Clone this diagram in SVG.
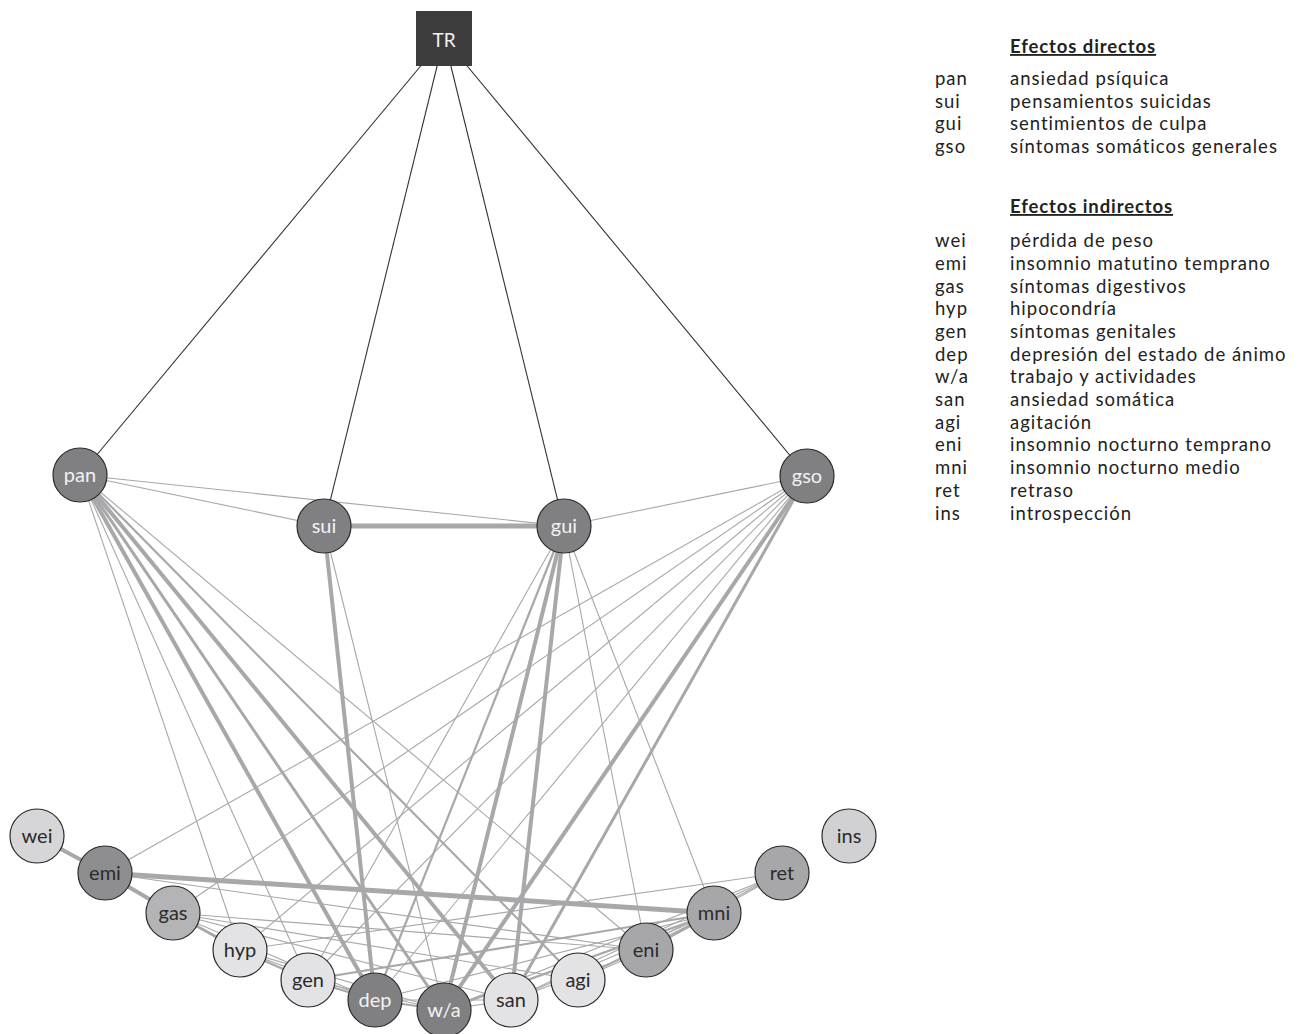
<svg xmlns="http://www.w3.org/2000/svg" width="1299" height="1034" viewBox="0 0 1299 1034">
<style>
.e{stroke:#a8a8ab;fill:none}
.w1{stroke-width:1.1}
.w2{stroke-width:2.2}
.w3{stroke-width:3}
.w4{stroke-width:4}
.w5{stroke-width:5}
.tr{stroke:#333;stroke-width:1.1;fill:none}
.n{stroke:#2b2b2b;stroke-width:1.2}
.lab{font-family:Lato,"Open Sans",sans-serif;font-size:20px;text-anchor:middle;dominant-baseline:central}
.lw{fill:#f2f2f2}
.ld{fill:#2b2b2b}
.lg{font-family:Lato,"Open Sans",sans-serif;font-size:18.5px;fill:#222;letter-spacing:1px}
.hd{font-weight:bold;text-decoration:underline;letter-spacing:0.9px}
.c1{fill:#808083}
.c2{fill:#8e8e90}
.c3{fill:#b4b4b6}
.c4{fill:#a7a7a9}
.c5{fill:#d6d6d8}
.c6{fill:#e3e3e5}
.c7{fill:#d1d1d3}
</style>
<rect width="1299" height="1034" fill="#ffffff"/>
<g id="connectors">
<line class="tr" x1="444" y1="38" x2="80" y2="475"/>
<line class="tr" x1="444" y1="38" x2="324" y2="526"/>
<line class="tr" x1="444" y1="38" x2="564" y2="526"/>
<line class="tr" x1="444" y1="38" x2="807" y2="476"/>
<line class="e w1" x1="80" y1="475" x2="324" y2="526"/>
<line class="e w1" x1="80" y1="475" x2="564" y2="526"/>
<line class="e w1" x1="80" y1="475" x2="240" y2="950"/>
<line class="e w1" x1="80" y1="475" x2="308" y2="980"/>
<line class="e w4" x1="80" y1="475" x2="375" y2="1000"/>
<line class="e w3" x1="80" y1="475" x2="444" y2="1010"/>
<line class="e w4" x1="80" y1="475" x2="511" y2="1000"/>
<line class="e w2" x1="80" y1="475" x2="578" y2="980"/>
<line class="e w1" x1="80" y1="475" x2="646" y2="950"/>
<line class="e w5" x1="324" y1="526" x2="564" y2="526"/>
<line class="e w4" x1="324" y1="526" x2="375" y2="1000"/>
<line class="e w1" x1="324" y1="526" x2="444" y2="1010"/>
<line class="e w1" x1="564" y1="526" x2="807" y2="476"/>
<line class="e w1" x1="564" y1="526" x2="308" y2="980"/>
<line class="e w2" x1="564" y1="526" x2="375" y2="1000"/>
<line class="e w4" x1="564" y1="526" x2="444" y2="1010"/>
<line class="e w4" x1="564" y1="526" x2="511" y2="1000"/>
<line class="e w1" x1="564" y1="526" x2="646" y2="950"/>
<line class="e w1" x1="564" y1="526" x2="714" y2="913"/>
<line class="e w1" x1="807" y1="476" x2="105" y2="873"/>
<line class="e w1" x1="807" y1="476" x2="173" y2="913"/>
<line class="e w1" x1="807" y1="476" x2="240" y2="950"/>
<line class="e w1" x1="807" y1="476" x2="308" y2="980"/>
<line class="e w1" x1="807" y1="476" x2="375" y2="1000"/>
<line class="e w4" x1="807" y1="476" x2="444" y2="1010"/>
<line class="e w3" x1="807" y1="476" x2="511" y2="1000"/>
<line class="e w4" x1="37" y1="836" x2="105" y2="873"/>
<line class="e w4" x1="105" y1="873" x2="173" y2="913"/>
<line class="e w5" x1="105" y1="873" x2="714" y2="913"/>
<line class="e w1" x1="105" y1="873" x2="646" y2="950"/>
<line class="e w3" x1="173" y1="913" x2="240" y2="950"/>
<line class="e w1" x1="173" y1="913" x2="646" y2="950"/>
<line class="e w1" x1="173" y1="913" x2="578" y2="980"/>
<line class="e w1" x1="173" y1="913" x2="511" y2="1000"/>
<line class="e w1" x1="173" y1="913" x2="375" y2="1000"/>
<line class="e w2" x1="240" y1="950" x2="308" y2="980"/>
<line class="e w1" x1="240" y1="950" x2="375" y2="1000"/>
<line class="e w1" x1="240" y1="950" x2="444" y2="1010"/>
<line class="e w1" x1="240" y1="950" x2="782" y2="873"/>
<line class="e w2" x1="308" y1="980" x2="375" y2="1000"/>
<line class="e w1" x1="308" y1="980" x2="444" y2="1010"/>
<line class="e w2" x1="308" y1="980" x2="714" y2="913"/>
<line class="e w2" x1="375" y1="1000" x2="444" y2="1010"/>
<line class="e w1" x1="375" y1="1000" x2="511" y2="1000"/>
<line class="e w1" x1="375" y1="1000" x2="714" y2="913"/>
<line class="e w2" x1="444" y1="1010" x2="714" y2="913"/>
<line class="e w1" x1="444" y1="1010" x2="782" y2="873"/>
<line class="e w1" x1="444" y1="1010" x2="511" y2="1000"/>
<line class="e w1" x1="511" y1="1000" x2="782" y2="873"/>
<line class="e w1" x1="511" y1="1000" x2="714" y2="913"/>
<line class="e w1" x1="511" y1="1000" x2="646" y2="950"/>
<line class="e w1" x1="578" y1="980" x2="646" y2="950"/>
<line class="e w1" x1="578" y1="980" x2="714" y2="913"/>
<line class="e w1" x1="578" y1="980" x2="782" y2="873"/>
<line class="e w2" x1="646" y1="950" x2="714" y2="913"/>
<line class="e w1" x1="646" y1="950" x2="782" y2="873"/>
</g>
<g id="TR"><rect x="416" y="11" width="56" height="55" fill="#3c3c3c"/><text class="lab lw" x="444" y="39" style="font-size:19px">TR</text></g>
<g id="pan"><circle class="n c1" cx="80" cy="475" r="27"/><text class="lab lw" x="80" y="474">pan</text></g>
<g id="sui"><circle class="n c1" cx="324" cy="526" r="27"/><text class="lab lw" x="324" y="525">sui</text></g>
<g id="gui"><circle class="n c1" cx="564" cy="526" r="27"/><text class="lab lw" x="564" y="525">gui</text></g>
<g id="gso"><circle class="n c1" cx="807" cy="476" r="27"/><text class="lab lw" x="807" y="475">gso</text></g>
<g id="wei"><circle class="n c5" cx="37" cy="836" r="27"/><text class="lab ld" x="37" y="835">wei</text></g>
<g id="emi"><circle class="n c2" cx="105" cy="873" r="27"/><text class="lab ld" x="105" y="872">emi</text></g>
<g id="gas"><circle class="n c3" cx="173" cy="913" r="27"/><text class="lab ld" x="173" y="912">gas</text></g>
<g id="hyp"><circle class="n c6" cx="240" cy="950" r="27"/><text class="lab ld" x="240" y="949">hyp</text></g>
<g id="gen"><circle class="n c6" cx="308" cy="980" r="27"/><text class="lab ld" x="308" y="979">gen</text></g>
<g id="dep"><circle class="n c1" cx="375" cy="1000" r="27"/><text class="lab lw" x="375" y="999">dep</text></g>
<g id="wa"><circle class="n c1" cx="444" cy="1010" r="27"/><text class="lab lw" x="444" y="1009">w/a</text></g>
<g id="san"><circle class="n c6" cx="511" cy="1000" r="27"/><text class="lab ld" x="511" y="999">san</text></g>
<g id="agi"><circle class="n c6" cx="578" cy="980" r="27"/><text class="lab ld" x="578" y="979">agi</text></g>
<g id="eni"><circle class="n c4" cx="646" cy="950" r="27"/><text class="lab ld" x="646" y="949">eni</text></g>
<g id="mni"><circle class="n c4" cx="714" cy="913" r="27"/><text class="lab ld" x="714" y="912">mni</text></g>
<g id="ret"><circle class="n c4" cx="782" cy="873" r="27"/><text class="lab ld" x="782" y="872">ret</text></g>
<g id="ins"><circle class="n c7" cx="849" cy="836" r="27"/><text class="lab ld" x="849" y="835">ins</text></g>
<g id="legend" class="lg">
<text class="hd" x="1010" y="53">Efectos directos</text>
<text x="935" y="85">pan</text><text x="1010" y="85">ansiedad psíquica</text>
<text x="935" y="108">sui</text><text x="1010" y="108">pensamientos suicidas</text>
<text x="935" y="130">gui</text><text x="1010" y="130">sentimientos de culpa</text>
<text x="935" y="153">gso</text><text x="1010" y="153">síntomas somáticos generales</text>
<text class="hd" x="1010" y="213">Efectos indirectos</text>
<text x="935" y="247">wei</text><text x="1010" y="247">pérdida de peso</text>
<text x="935" y="270">emi</text><text x="1010" y="270">insomnio matutino temprano</text>
<text x="935" y="293">gas</text><text x="1010" y="293">síntomas digestivos</text>
<text x="935" y="315">hyp</text><text x="1010" y="315">hipocondría</text>
<text x="935" y="338">gen</text><text x="1010" y="338">síntomas genitales</text>
<text x="935" y="361">dep</text><text x="1010" y="361">depresión del estado de ánimo</text>
<text x="935" y="383">w/a</text><text x="1010" y="383">trabajo y actividades</text>
<text x="935" y="406">san</text><text x="1010" y="406">ansiedad somática</text>
<text x="935" y="429">agi</text><text x="1010" y="429">agitación</text>
<text x="935" y="451">eni</text><text x="1010" y="451">insomnio nocturno temprano</text>
<text x="935" y="474">mni</text><text x="1010" y="474">insomnio nocturno medio</text>
<text x="935" y="497">ret</text><text x="1010" y="497">retraso</text>
<text x="935" y="520">ins</text><text x="1010" y="520">introspección</text>
</g>
</svg>
